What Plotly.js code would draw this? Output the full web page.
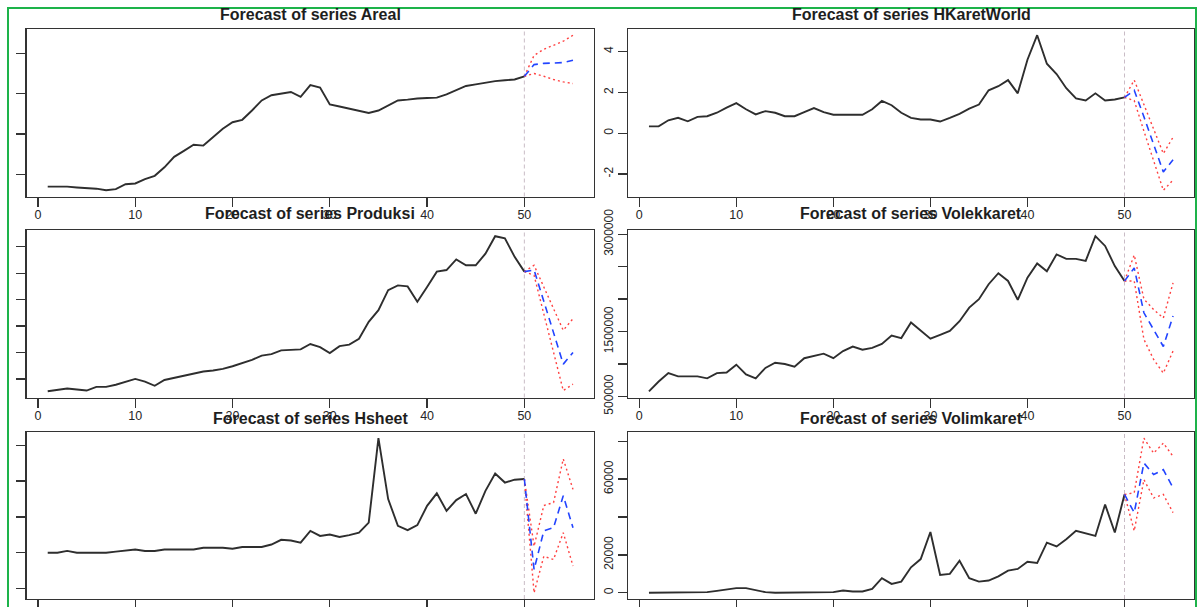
<!DOCTYPE html>
<html>
<head>
<meta charset="utf-8">
<script src="https://cdn.plot.ly/plotly-3.0.1.min.js"></script>
<style>
  html, body { margin: 0; padding: 0; background: #ffffff; }
  #chart { width: 1201px; height: 607px; }
</style>
</head>
<body>
<div id="chart"></div>
<script>
// ---- observed series (periods 1..50) ----
const areal = [0.69,0.69,0.69,0.67,0.66,0.64,0.60,0.63,0.75,0.77,
               0.88,0.96,1.17,1.43,1.58,1.73,1.71,1.92,2.13,2.29,
               2.35,2.58,2.83,2.96,3.00,3.04,2.92,3.21,3.15,2.73,
               2.68,2.63,2.57,2.52,2.58,2.71,2.83,2.85,2.88,2.89,
               2.90,2.98,3.08,3.19,3.23,3.27,3.31,3.33,3.35,3.43];
const hkaretWorld = [0.33,0.33,0.63,0.75,0.58,0.80,0.83,1.00,1.25,1.47,
                     1.17,0.92,1.08,1.00,0.83,0.83,1.03,1.23,1.03,0.90,
                     0.90,0.90,0.90,1.17,1.58,1.37,1.00,0.75,0.67,0.67,
                     0.57,0.75,0.95,1.20,1.40,2.10,2.30,2.60,1.95,3.60,
                     4.80,3.40,2.90,2.20,1.70,1.60,1.95,1.60,1.65,1.75];
const produksi = [266000,290000,320000,300000,280000,350000,350000,390000,450000,500000,
                  450000,370000,480000,520000,550000,590000,640000,660000,690000,740000,
                  800000,860000,940000,970000,1040000,1050000,1060000,1160000,1100000,990000,
                  1120000,1150000,1260000,1580000,1800000,2180000,2270000,2250000,1960000,2240000,
                  2530000,2560000,2760000,2650000,2650000,2870000,3200000,3160000,2810000,2530000];
const volekkaret = [580000,730000,860000,810000,810000,810000,780000,860000,870000,990000,
                    840000,780000,940000,1020000,1000000,960000,1090000,1130000,1160000,1090000,
                    1200000,1270000,1220000,1250000,1310000,1440000,1400000,1640000,1510000,1390000,
                    1450000,1510000,1660000,1870000,2000000,2230000,2400000,2280000,1990000,2330000,
                    2550000,2430000,2690000,2620000,2620000,2590000,2970000,2820000,2510000,2280000];
const hsheet = [1.00,1.00,1.05,1.00,1.00,1.00,1.00,1.03,1.05,1.09,
                1.05,1.05,1.09,1.09,1.09,1.09,1.14,1.14,1.14,1.11,
                1.16,1.16,1.16,1.23,1.36,1.34,1.28,1.61,1.47,1.51,
                1.44,1.49,1.56,1.84,4.20,2.50,1.75,1.63,1.77,2.31,
                2.66,2.17,2.47,2.64,2.09,2.73,3.21,2.96,3.04,3.06];
const volimkaret = [0,0,0,0,0,0,350,1050,1750,2450,
                    2450,1570,350,0,0,0,0,0,350,350,
                    1220,700,700,2100,7700,4700,5900,13450,17800,32100,
                    9400,10000,16900,7700,5900,6500,8700,11700,12600,16400,
                    15700,26500,24500,28300,32700,31300,30000,46600,31800,51900];

// ---- forecasts (periods 51..55): point forecast, lower and upper bounds ----
const arealFc = [3.72,3.75,3.76,3.77,3.83];
const arealLo = [3.50,3.43,3.35,3.29,3.25];
const arealHi = [3.95,4.10,4.20,4.30,4.45];
const hkaretWorldFc = [2.10,0.80,-0.60,-1.90,-1.30];
const hkaretWorldLo = [1.60,0.10,-1.40,-2.80,-2.30];
const hkaretWorldHi = [2.60,1.40,0.20,-1.00,-0.20];
const produksiFc = [2560000,1970000,1370000,780000,1000000];
const produksiLo = [2460000,1730000,1000000,280000,400000];
const produksiHi = [2650000,2240000,1830000,1420000,1640000];
const volekkaretFc = [2480000,1790000,1530000,1270000,1740000];
const volekkaretLo = [2280000,1380000,1070000,860000,1200000];
const volekkaretHi = [2680000,2000000,1840000,1710000,2250000];
const hsheetFc = [0.53,1.61,1.70,2.59,1.70];
const hsheetLo = [-0.12,0.90,0.81,1.56,0.63];
const hsheetHi = [1.18,2.32,2.40,3.62,2.77];
const volimkaretFc = [42300,68500,62400,65000,55400];
const volimkaretLo = [32700,59700,50100,51900,42300];
const volimkaretHi = [52800,81600,73700,79000,72000];

// ---- axis ticks ----
const xTicks = [0, 10, 20, 30, 40, 50];
const arealTicks = [1, 2, 3, 4];
const hkaretWorldTicks = [-2, 0, 2, 4];
const hkaretWorldTickText = ['-2', '0', '2', '4'];
const produksiTicks = [500000, 1000000, 1500000, 2000000, 2500000, 3000000];
const volekkaretTicks = [500000, 1000000, 1500000, 2000000, 2500000, 3000000];
const volekkaretTickText = ['500000', '', '1500000', '', '', '3000000'];
const hsheetTicks = [0, 1, 2, 3, 4];
const volimkaretTicks = [0, 20000, 40000, 60000, 80000];
const volimkaretTickText = ['0', '20000', '', '60000', ''];

const panels = [
  { name: 'Areal',       obs: areal,       fc: arealFc,       lo: arealLo,       hi: arealHi,       ticks: arealTicks,       text: null },
  { name: 'HKaretWorld', obs: hkaretWorld, fc: hkaretWorldFc, lo: hkaretWorldLo, hi: hkaretWorldHi, ticks: hkaretWorldTicks, text: hkaretWorldTickText },
  { name: 'Produksi',    obs: produksi,    fc: produksiFc,    lo: produksiLo,    hi: produksiHi,    ticks: produksiTicks,    text: null },
  { name: 'Volekkaret',  obs: volekkaret,  fc: volekkaretFc,  lo: volekkaretLo,  hi: volekkaretHi,  ticks: volekkaretTicks,  text: volekkaretTickText },
  { name: 'Hsheet',      obs: hsheet,      fc: hsheetFc,      lo: hsheetLo,      hi: hsheetHi,      ticks: hsheetTicks,      text: null },
  { name: 'Volimkaret',  obs: volimkaret,  fc: volimkaretFc,  lo: volimkaretLo,  hi: volimkaretHi,  ticks: volimkaretTicks,  text: volimkaretTickText }
];

// ---- page geometry (pixels) ----
const W = 1201, H = 607;
const colPx = [[26.7, 594], [628, 1194]];
const rowPx = [[29, 196.5], [230, 397.5], [432, 599]];
const titleYPx = [14.5, 213, 418];

const FONT = '"Liberation Sans", Arial, Helvetica, sans-serif';
const INK = '#262626';

const traces = [];
const shapes = [];
const annotations = [];
const layout = {
  width: W, height: H,
  margin: { l: 0, r: 0, t: 0, b: 0, pad: 0 },
  paper_bgcolor: '#ffffff',
  plot_bgcolor: '#ffffff',
  showlegend: false,
  font: { family: FONT, color: INK, size: 12 }
};

// R-style range: data span padded by 4% on each side
function paddedRange(values) {
  const lo = Math.min(...values), hi = Math.max(...values);
  const pad = 0.04 * (hi - lo);
  return [lo - pad, hi + pad];
}

panels.forEach((p, i) => {
  const k = i + 1;
  const xa = k === 1 ? 'x' : 'x' + k;
  const ya = k === 1 ? 'y' : 'y' + k;
  const row = Math.floor(i / 2), col = i % 2;
  const n = p.obs.length;
  const obsX = p.obs.map((_, j) => j + 1);
  const fcX = [n].concat(p.fc.map((_, j) => n + j + 1));
  const last = p.obs[n - 1];
  const allX = obsX.concat(fcX);

  // observed series
  traces.push({ x: obsX, y: p.obs, xaxis: xa, yaxis: ya, type: 'scatter', mode: 'lines',
    line: { color: '#2e2e2e', width: 1.9 }, hoverinfo: 'skip' });
  // lower / upper bounds
  traces.push({ x: fcX, y: [last].concat(p.lo), xaxis: xa, yaxis: ya, type: 'scatter', mode: 'lines',
    line: { color: '#ff4040', width: 1.4, dash: '2px,3px' }, hoverinfo: 'skip' });
  traces.push({ x: fcX, y: [last].concat(p.hi), xaxis: xa, yaxis: ya, type: 'scatter', mode: 'lines',
    line: { color: '#ff4040', width: 1.4, dash: '2px,3px' }, hoverinfo: 'skip' });
  // point forecast
  traces.push({ x: fcX, y: [last].concat(p.fc), xaxis: xa, yaxis: ya, type: 'scatter', mode: 'lines',
    line: { color: '#2244ff', width: 1.6, dash: '7px,5px' }, hoverinfo: 'skip' });

  const xRange = paddedRange(allX);
  const yRange = paddedRange(p.obs.concat(p.fc, p.lo, p.hi));

  const axisCommon = {
    showline: true, mirror: true, linecolor: '#333333', linewidth: 1.3,
    ticks: 'outside', ticklen: 9, tickwidth: 1.3, tickcolor: '#333333',
    showgrid: false, zeroline: false, fixedrange: true
  };

  layout['xaxis' + (k === 1 ? '' : k)] = Object.assign({}, axisCommon, {
    domain: [colPx[col][0] / W, colPx[col][1] / W],
    anchor: ya, range: xRange, tickmode: 'array', tickvals: xTicks,
    ticktext: xTicks.map(String),
    showticklabels: row < 2,
    ticklabelstandoff: -3,
    tickfont: { family: FONT, size: 12.5, color: INK }
  });

  const yAxis = Object.assign({}, axisCommon, {
    domain: [1 - rowPx[row][1] / H, 1 - rowPx[row][0] / H],
    anchor: xa, range: yRange, tickmode: 'array', tickvals: p.ticks,
    tickfont: { family: FONT, size: 12, color: INK }
  });
  if (p.text) {
    yAxis.ticktext = p.text;
    yAxis.tickangle = -90;
    yAxis.showticklabels = true;
  } else {
    yAxis.showticklabels = false;
  }
  layout['yaxis' + (k === 1 ? '' : k)] = yAxis;

  // vertical marker at the last observed period
  shapes.push({ type: 'line', xref: xa, yref: ya + ' domain', x0: n, x1: n, y0: 0, y1: 1,
    line: { color: '#c9bcc6', width: 1, dash: '4px,3px' }, layer: 'below' });

  annotations.push({
    text: '<b>Forecast of series ' + p.name + '</b>',
    xref: xa + ' domain', x: 0.5, xanchor: 'center',
    yref: 'paper', y: 1 - titleYPx[row] / H, yanchor: 'middle',
    showarrow: false, font: { family: FONT, size: 16, color: '#1e1e1e' }
  });
});

// green frame around the figure
shapes.push({ type: 'rect', xref: 'paper', yref: 'paper',
  x0: 8 / W, x1: 1196 / W, y0: -0.05, y1: 1 - 8 / H,
  line: { color: '#1db34a', width: 2 }, fillcolor: 'rgba(0,0,0,0)', layer: 'above' });

layout.shapes = shapes;
layout.annotations = annotations;

Plotly.newPlot('chart', traces, layout, { staticPlot: true, displayModeBar: false });
</script>
</body>
</html>
